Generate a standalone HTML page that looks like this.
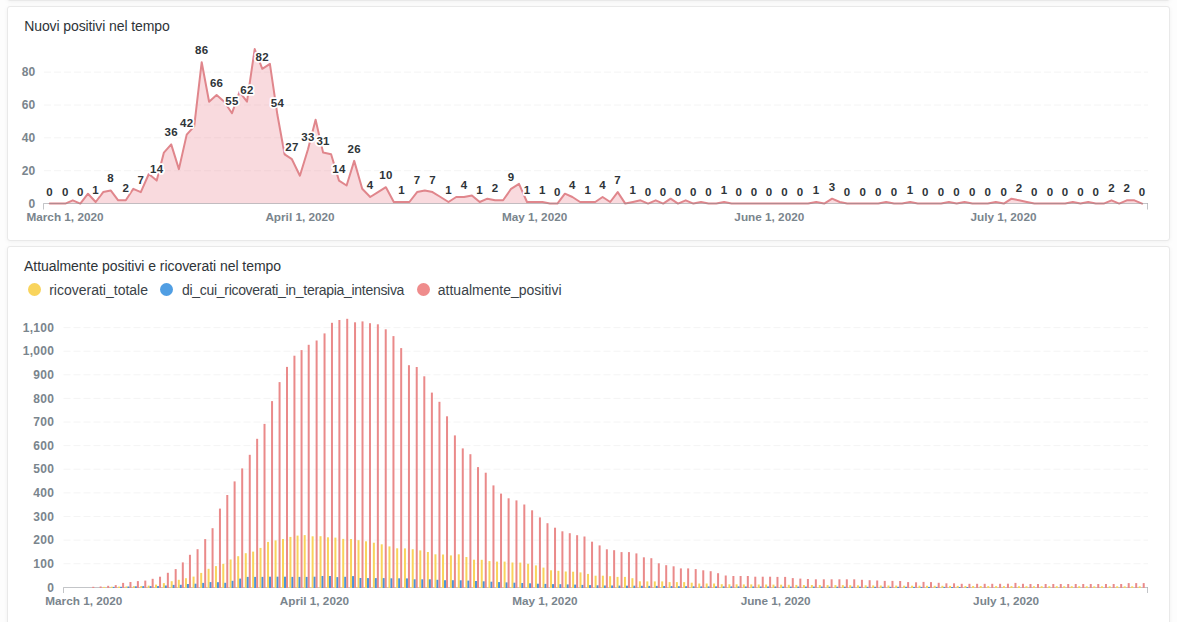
<!DOCTYPE html>
<html><head><meta charset="utf-8"><style>
html,body{margin:0;padding:0}
body{width:1177px;height:622px;overflow:hidden;position:relative;background:#FDFDFD;font-family:"Liberation Sans",sans-serif}
.card{position:absolute;left:7px;width:1163px;background:#fff;border:1px solid #E9E9E9;border-radius:3px;box-sizing:border-box;box-shadow:0 1px 4px rgba(0,0,0,0.05)}
.title{position:absolute;left:24.2px;font-size:14px;color:#2E3438;letter-spacing:-0.1px;white-space:nowrap;line-height:16px}
.leg{position:absolute;font-size:14px;color:#3A4248;white-space:nowrap;line-height:16px}
.dot{position:absolute;width:13px;height:13px;border-radius:50%}
svg{position:absolute;left:0;top:0}
.grid{stroke:#F4F4F4;stroke-width:1;stroke-dasharray:7,3}
.axis{stroke:rgba(135,140,145,0.5);stroke-width:1;fill:none}
.dl{font:bold 11.5px "Liberation Sans",sans-serif;letter-spacing:0.3px;fill:#2E3438;text-anchor:middle;stroke:#fff;stroke-width:3.5px;stroke-linejoin:round;paint-order:stroke}
.yl{font:bold 12px "Liberation Sans",sans-serif;letter-spacing:0.3px;fill:#7A858D;text-anchor:end}
.xl{font:bold 11.75px "Liberation Sans",sans-serif;fill:#7A858D;text-anchor:middle}
</style></head><body>
<div class="card" style="top:-30px;height:31px"></div>
<div class="card" style="top:6px;height:235px"></div>
<div class="card" style="top:246px;height:420px"></div>
<div class="title" style="top:18px">Nuovi positivi nel tempo</div>
<div class="title" style="top:258px;left:24px;letter-spacing:-0.05px">Attualmente positivi e ricoverati nel tempo</div>
<div class="dot" style="left:28px;top:283px;background:#F9D45C"></div>
<div class="leg" style="left:49.2px;top:282px">ricoverati_totale</div>
<div class="dot" style="left:160px;top:283px;background:#509EE3"></div>
<div class="leg" style="left:182px;top:282px;letter-spacing:-0.3px">di_cui_ricoverati_in_terapia_intensiva</div>
<div class="dot" style="left:417px;top:283px;background:#EF8C8C"></div>
<div class="leg" style="left:437.8px;top:282px">attualmente_positivi</div>
<svg width="1177" height="622" viewBox="0 0 1177 622">
<line x1="44" x2="1148" y1="170.7" y2="170.7" class="grid"/>
<line x1="44" x2="1148" y1="137.8" y2="137.8" class="grid"/>
<line x1="44" x2="1148" y1="105.0" y2="105.0" class="grid"/>
<line x1="44" x2="1148" y1="72.1" y2="72.1" class="grid"/>
<path d="M49.7,203.6 L49.7,203.6 57.5,203.6 65.3,203.6 72.8,200.3 80.3,203.6 88.0,193.7 95.7,202.0 103.2,192.1 110.7,190.4 118.2,200.3 125.8,200.3 133.3,188.8 140.8,192.1 148.8,174.0 156.7,180.6 163.9,152.6 171.2,144.4 178.9,169.1 186.7,134.6 194.2,126.3 201.7,62.2 209.1,101.7 216.6,95.1 224.3,101.7 232.0,113.2 239.5,91.8 247.0,101.7 254.7,49.1 262.3,68.8 269.9,63.9 277.4,114.8 284.6,154.3 291.9,159.2 299.9,175.7 308.0,149.3 315.6,119.8 323.1,152.6 331.1,154.3 339.0,180.6 346.6,185.5 354.2,160.9 362.2,188.8 370.2,197.0 378.0,192.1 385.9,187.2 393.8,202.0 401.7,202.0 409.4,202.0 417.1,192.1 424.8,190.4 432.5,192.1 440.5,197.0 448.5,202.0 456.2,197.0 464.0,197.0 471.9,195.4 479.7,202.0 487.4,198.7 495.1,200.3 503.1,200.3 511.1,188.8 519.0,183.9 527.0,202.0 534.7,202.0 542.4,202.0 549.9,203.6 557.4,203.6 564.9,193.7 572.4,197.0 580.1,202.0 587.8,202.0 595.2,202.0 602.6,197.0 610.2,202.0 617.7,192.1 625.3,203.6 632.9,202.0 640.5,200.3 648.1,203.6 655.7,200.3 663.2,203.6 670.6,198.7 678.0,203.6 685.7,200.3 693.4,203.6 701.0,202.0 708.5,203.6 716.3,203.6 724.1,202.0 731.5,203.6 738.8,203.6 746.4,203.6 754.0,203.6 761.5,203.6 769.0,203.6 776.8,203.6 784.6,203.6 792.3,203.6 800.0,203.6 808.1,203.6 816.2,202.0 824.2,203.6 832.1,198.7 839.7,202.0 847.2,203.6 855.0,203.6 862.9,203.6 870.6,203.6 878.3,203.6 886.1,202.0 894.0,203.6 902.1,203.6 910.2,202.0 917.8,203.6 925.4,203.6 933.2,203.6 941.1,203.6 948.9,202.0 956.7,203.6 964.5,202.0 972.4,203.6 980.1,203.6 987.8,203.6 995.8,202.0 1003.8,203.6 1011.5,198.7 1019.1,200.3 1026.8,202.0 1034.4,203.6 1042.2,203.6 1050.0,203.6 1057.6,203.6 1065.2,203.6 1072.8,202.0 1080.5,203.6 1088.2,202.0 1095.8,203.6 1103.7,203.6 1111.5,200.3 1119.2,203.6 1126.8,200.3 1134.4,200.3 1142.1,203.6 L1142.1,203.6 Z" fill="#ED8F9B" fill-opacity="0.33" stroke="none"/>
<polyline points="49.7,203.6 57.5,203.6 65.3,203.6 72.8,200.3 80.3,203.6 88.0,193.7 95.7,202.0 103.2,192.1 110.7,190.4 118.2,200.3 125.8,200.3 133.3,188.8 140.8,192.1 148.8,174.0 156.7,180.6 163.9,152.6 171.2,144.4 178.9,169.1 186.7,134.6 194.2,126.3 201.7,62.2 209.1,101.7 216.6,95.1 224.3,101.7 232.0,113.2 239.5,91.8 247.0,101.7 254.7,49.1 262.3,68.8 269.9,63.9 277.4,114.8 284.6,154.3 291.9,159.2 299.9,175.7 308.0,149.3 315.6,119.8 323.1,152.6 331.1,154.3 339.0,180.6 346.6,185.5 354.2,160.9 362.2,188.8 370.2,197.0 378.0,192.1 385.9,187.2 393.8,202.0 401.7,202.0 409.4,202.0 417.1,192.1 424.8,190.4 432.5,192.1 440.5,197.0 448.5,202.0 456.2,197.0 464.0,197.0 471.9,195.4 479.7,202.0 487.4,198.7 495.1,200.3 503.1,200.3 511.1,188.8 519.0,183.9 527.0,202.0 534.7,202.0 542.4,202.0 549.9,203.6 557.4,203.6 564.9,193.7 572.4,197.0 580.1,202.0 587.8,202.0 595.2,202.0 602.6,197.0 610.2,202.0 617.7,192.1 625.3,203.6 632.9,202.0 640.5,200.3 648.1,203.6 655.7,200.3 663.2,203.6 670.6,198.7 678.0,203.6 685.7,200.3 693.4,203.6 701.0,202.0 708.5,203.6 716.3,203.6 724.1,202.0 731.5,203.6 738.8,203.6 746.4,203.6 754.0,203.6 761.5,203.6 769.0,203.6 776.8,203.6 784.6,203.6 792.3,203.6 800.0,203.6 808.1,203.6 816.2,202.0 824.2,203.6 832.1,198.7 839.7,202.0 847.2,203.6 855.0,203.6 862.9,203.6 870.6,203.6 878.3,203.6 886.1,202.0 894.0,203.6 902.1,203.6 910.2,202.0 917.8,203.6 925.4,203.6 933.2,203.6 941.1,203.6 948.9,202.0 956.7,203.6 964.5,202.0 972.4,203.6 980.1,203.6 987.8,203.6 995.8,202.0 1003.8,203.6 1011.5,198.7 1019.1,200.3 1026.8,202.0 1034.4,203.6 1042.2,203.6 1050.0,203.6 1057.6,203.6 1065.2,203.6 1072.8,202.0 1080.5,203.6 1088.2,202.0 1095.8,203.6 1103.7,203.6 1111.5,200.3 1119.2,203.6 1126.8,200.3 1134.4,200.3 1142.1,203.6" fill="none" stroke="#E0868C" stroke-width="2" stroke-linejoin="round" stroke-linecap="round"/>
<path d="M43.5,203.5 H1148" class="axis"/>
<path d="M43.5,203.5 V209.5 M1147.5,203.5 V209.5" class="axis"/>
<text x="49.7" y="195.6" class="dl">0</text>
<text x="65.3" y="195.6" class="dl">0</text>
<text x="80.3" y="195.6" class="dl">0</text>
<text x="95.7" y="194.0" class="dl">1</text>
<text x="110.7" y="182.4" class="dl">8</text>
<text x="125.8" y="192.3" class="dl">2</text>
<text x="140.8" y="184.1" class="dl">7</text>
<text x="156.7" y="172.6" class="dl">14</text>
<text x="171.2" y="136.4" class="dl">36</text>
<text x="186.7" y="126.6" class="dl">42</text>
<text x="201.7" y="54.2" class="dl">86</text>
<text x="216.6" y="87.1" class="dl">66</text>
<text x="232.0" y="105.2" class="dl">55</text>
<text x="247.0" y="93.7" class="dl">62</text>
<text x="262.3" y="60.8" class="dl">82</text>
<text x="277.4" y="106.8" class="dl">54</text>
<text x="291.9" y="151.2" class="dl">27</text>
<text x="308.0" y="141.3" class="dl">33</text>
<text x="323.1" y="144.6" class="dl">31</text>
<text x="339.0" y="172.6" class="dl">14</text>
<text x="354.2" y="152.9" class="dl">26</text>
<text x="370.2" y="189.0" class="dl">4</text>
<text x="385.9" y="179.2" class="dl">10</text>
<text x="401.7" y="194.0" class="dl">1</text>
<text x="417.1" y="184.1" class="dl">7</text>
<text x="432.5" y="184.1" class="dl">7</text>
<text x="448.5" y="194.0" class="dl">1</text>
<text x="464.0" y="189.0" class="dl">4</text>
<text x="479.7" y="194.0" class="dl">1</text>
<text x="495.1" y="192.3" class="dl">2</text>
<text x="511.1" y="180.8" class="dl">9</text>
<text x="527.0" y="194.0" class="dl">1</text>
<text x="542.4" y="194.0" class="dl">1</text>
<text x="557.4" y="195.6" class="dl">0</text>
<text x="572.4" y="189.0" class="dl">4</text>
<text x="587.8" y="194.0" class="dl">1</text>
<text x="602.6" y="189.0" class="dl">4</text>
<text x="617.7" y="184.1" class="dl">7</text>
<text x="632.9" y="194.0" class="dl">1</text>
<text x="648.1" y="195.6" class="dl">0</text>
<text x="663.2" y="195.6" class="dl">0</text>
<text x="678.0" y="195.6" class="dl">0</text>
<text x="693.4" y="195.6" class="dl">0</text>
<text x="708.5" y="195.6" class="dl">0</text>
<text x="724.1" y="194.0" class="dl">1</text>
<text x="738.8" y="195.6" class="dl">0</text>
<text x="754.0" y="195.6" class="dl">0</text>
<text x="769.0" y="195.6" class="dl">0</text>
<text x="784.6" y="195.6" class="dl">0</text>
<text x="800.0" y="195.6" class="dl">0</text>
<text x="816.2" y="194.0" class="dl">1</text>
<text x="832.1" y="190.7" class="dl">3</text>
<text x="847.2" y="195.6" class="dl">0</text>
<text x="862.9" y="195.6" class="dl">0</text>
<text x="878.3" y="195.6" class="dl">0</text>
<text x="894.0" y="195.6" class="dl">0</text>
<text x="910.2" y="194.0" class="dl">1</text>
<text x="925.4" y="195.6" class="dl">0</text>
<text x="941.1" y="195.6" class="dl">0</text>
<text x="956.7" y="195.6" class="dl">0</text>
<text x="972.4" y="195.6" class="dl">0</text>
<text x="987.8" y="195.6" class="dl">0</text>
<text x="1003.8" y="195.6" class="dl">0</text>
<text x="1019.1" y="192.3" class="dl">2</text>
<text x="1034.4" y="195.6" class="dl">0</text>
<text x="1050.0" y="195.6" class="dl">0</text>
<text x="1065.2" y="195.6" class="dl">0</text>
<text x="1080.5" y="195.6" class="dl">0</text>
<text x="1095.8" y="195.6" class="dl">0</text>
<text x="1111.5" y="192.3" class="dl">2</text>
<text x="1126.8" y="192.3" class="dl">2</text>
<text x="1142.1" y="195.6" class="dl">0</text>
<text x="35.6" y="207.8" class="yl">0</text>
<text x="35.6" y="174.9" class="yl">20</text>
<text x="35.6" y="142.0" class="yl">40</text>
<text x="35.6" y="109.2" class="yl">60</text>
<text x="35.6" y="76.3" class="yl">80</text>
<text x="65" y="220.6" class="xl">March 1, 2020</text>
<text x="300" y="220.6" class="xl">April 1, 2020</text>
<text x="534.6" y="220.6" class="xl">May 1, 2020</text>
<text x="769.3" y="220.6" class="xl">June 1, 2020</text>
<text x="1003.5" y="220.6" class="xl">July 1, 2020</text>
<line x1="63.5" x2="1148" y1="563.7" y2="563.7" class="grid"/>
<line x1="63.5" x2="1148" y1="540.1" y2="540.1" class="grid"/>
<line x1="63.5" x2="1148" y1="516.5" y2="516.5" class="grid"/>
<line x1="63.5" x2="1148" y1="492.9" y2="492.9" class="grid"/>
<line x1="63.5" x2="1148" y1="469.2" y2="469.2" class="grid"/>
<line x1="63.5" x2="1148" y1="445.6" y2="445.6" class="grid"/>
<line x1="63.5" x2="1148" y1="422.0" y2="422.0" class="grid"/>
<line x1="63.5" x2="1148" y1="398.4" y2="398.4" class="grid"/>
<line x1="63.5" x2="1148" y1="374.8" y2="374.8" class="grid"/>
<line x1="63.5" x2="1148" y1="351.2" y2="351.2" class="grid"/>
<line x1="63.5" x2="1148" y1="327.6" y2="327.6" class="grid"/>
<path d="M63.5,587.5 H1148" class="axis"/>
<path d="M63.5,587.5 V593 M1147.5,587.5 V593" class="axis"/>
<rect x="92.27" y="586.8" width="2" height="1.2" fill="#EA8A8A"/>
<rect x="99.63" y="586.5" width="2" height="1.5" fill="#EA8A8A"/>
<rect x="103.19" y="586.9" width="2" height="1.1" fill="#F9D45C"/>
<rect x="107.19" y="585.8" width="2" height="2.2" fill="#EA8A8A"/>
<rect x="110.74" y="586.7" width="2" height="1.3" fill="#F9D45C"/>
<rect x="112.74" y="586.9" width="2" height="1.1" fill="#4A94D8"/>
<rect x="114.74" y="585.1" width="2" height="2.9" fill="#EA8A8A"/>
<rect x="118.11" y="586.6" width="2" height="1.4" fill="#F9D45C"/>
<rect x="120.11" y="586.8" width="2" height="1.2" fill="#4A94D8"/>
<rect x="122.11" y="582.9" width="2" height="5.1" fill="#EA8A8A"/>
<rect x="125.47" y="586.4" width="2" height="1.6" fill="#F9D45C"/>
<rect x="127.47" y="586.5" width="2" height="1.5" fill="#4A94D8"/>
<rect x="129.47" y="582.0" width="2" height="6.0" fill="#EA8A8A"/>
<rect x="132.88" y="586.2" width="2" height="1.8" fill="#F9D45C"/>
<rect x="134.88" y="586.3" width="2" height="1.7" fill="#4A94D8"/>
<rect x="136.88" y="581.1" width="2" height="6.9" fill="#EA8A8A"/>
<rect x="140.29" y="586.0" width="2" height="2.0" fill="#F9D45C"/>
<rect x="142.29" y="586.1" width="2" height="1.9" fill="#4A94D8"/>
<rect x="144.29" y="580.6" width="2" height="7.4" fill="#EA8A8A"/>
<rect x="147.66" y="585.6" width="2" height="2.4" fill="#F9D45C"/>
<rect x="149.66" y="586.1" width="2" height="1.9" fill="#4A94D8"/>
<rect x="151.66" y="578.8" width="2" height="9.2" fill="#EA8A8A"/>
<rect x="155.04" y="584.6" width="2" height="3.4" fill="#F9D45C"/>
<rect x="157.04" y="586.1" width="2" height="1.9" fill="#4A94D8"/>
<rect x="159.04" y="576.7" width="2" height="11.3" fill="#EA8A8A"/>
<rect x="162.86" y="583.1" width="2" height="4.9" fill="#F9D45C"/>
<rect x="164.86" y="585.5" width="2" height="2.5" fill="#4A94D8"/>
<rect x="166.86" y="572.8" width="2" height="15.2" fill="#EA8A8A"/>
<rect x="170.68" y="581.2" width="2" height="6.8" fill="#F9D45C"/>
<rect x="172.68" y="584.9" width="2" height="3.1" fill="#4A94D8"/>
<rect x="174.68" y="569.1" width="2" height="18.9" fill="#EA8A8A"/>
<rect x="177.81" y="579.8" width="2" height="8.2" fill="#F9D45C"/>
<rect x="179.81" y="584.8" width="2" height="3.2" fill="#4A94D8"/>
<rect x="181.81" y="562.4" width="2" height="25.6" fill="#EA8A8A"/>
<rect x="184.94" y="578.2" width="2" height="9.8" fill="#F9D45C"/>
<rect x="186.94" y="584.0" width="2" height="4.0" fill="#4A94D8"/>
<rect x="188.94" y="554.8" width="2" height="33.2" fill="#EA8A8A"/>
<rect x="192.57" y="576.6" width="2" height="11.4" fill="#F9D45C"/>
<rect x="194.57" y="583.7" width="2" height="4.3" fill="#4A94D8"/>
<rect x="196.57" y="549.2" width="2" height="38.8" fill="#EA8A8A"/>
<rect x="200.19" y="572.9" width="2" height="15.1" fill="#F9D45C"/>
<rect x="202.19" y="582.9" width="2" height="5.1" fill="#4A94D8"/>
<rect x="204.19" y="539.1" width="2" height="48.9" fill="#EA8A8A"/>
<rect x="207.57" y="568.8" width="2" height="19.2" fill="#F9D45C"/>
<rect x="209.57" y="582.1" width="2" height="5.9" fill="#4A94D8"/>
<rect x="211.57" y="528.2" width="2" height="59.8" fill="#EA8A8A"/>
<rect x="214.95" y="566.1" width="2" height="21.9" fill="#F9D45C"/>
<rect x="216.95" y="582.2" width="2" height="5.8" fill="#4A94D8"/>
<rect x="218.95" y="508.6" width="2" height="79.4" fill="#EA8A8A"/>
<rect x="222.28" y="563.8" width="2" height="24.2" fill="#F9D45C"/>
<rect x="224.28" y="582.8" width="2" height="5.2" fill="#4A94D8"/>
<rect x="226.28" y="495.0" width="2" height="93.0" fill="#EA8A8A"/>
<rect x="229.61" y="559.5" width="2" height="28.5" fill="#F9D45C"/>
<rect x="231.61" y="580.8" width="2" height="7.2" fill="#4A94D8"/>
<rect x="233.61" y="481.4" width="2" height="106.6" fill="#EA8A8A"/>
<rect x="237.19" y="556.2" width="2" height="31.8" fill="#F9D45C"/>
<rect x="239.19" y="578.6" width="2" height="9.4" fill="#4A94D8"/>
<rect x="241.19" y="468.4" width="2" height="119.6" fill="#EA8A8A"/>
<rect x="244.76" y="553.2" width="2" height="34.8" fill="#F9D45C"/>
<rect x="246.76" y="576.9" width="2" height="11.1" fill="#4A94D8"/>
<rect x="248.76" y="454.8" width="2" height="133.2" fill="#EA8A8A"/>
<rect x="252.14" y="551.6" width="2" height="36.4" fill="#F9D45C"/>
<rect x="254.14" y="576.9" width="2" height="11.1" fill="#4A94D8"/>
<rect x="256.14" y="438.8" width="2" height="149.2" fill="#EA8A8A"/>
<rect x="259.52" y="547.9" width="2" height="40.1" fill="#F9D45C"/>
<rect x="261.52" y="576.9" width="2" height="11.1" fill="#4A94D8"/>
<rect x="263.52" y="423.9" width="2" height="164.1" fill="#EA8A8A"/>
<rect x="267.05" y="541.9" width="2" height="46.1" fill="#F9D45C"/>
<rect x="269.05" y="576.7" width="2" height="11.3" fill="#4A94D8"/>
<rect x="271.05" y="401.1" width="2" height="186.9" fill="#EA8A8A"/>
<rect x="274.57" y="540.4" width="2" height="47.6" fill="#F9D45C"/>
<rect x="276.57" y="576.7" width="2" height="11.3" fill="#4A94D8"/>
<rect x="278.57" y="382.1" width="2" height="205.9" fill="#EA8A8A"/>
<rect x="282.00" y="539.0" width="2" height="49.0" fill="#F9D45C"/>
<rect x="284.00" y="576.7" width="2" height="11.3" fill="#4A94D8"/>
<rect x="286.00" y="366.9" width="2" height="221.1" fill="#EA8A8A"/>
<rect x="289.43" y="536.9" width="2" height="51.1" fill="#F9D45C"/>
<rect x="291.43" y="576.9" width="2" height="11.1" fill="#4A94D8"/>
<rect x="293.43" y="355.7" width="2" height="232.3" fill="#EA8A8A"/>
<rect x="296.56" y="535.6" width="2" height="52.4" fill="#F9D45C"/>
<rect x="298.56" y="576.9" width="2" height="11.1" fill="#4A94D8"/>
<rect x="300.56" y="350.1" width="2" height="237.9" fill="#EA8A8A"/>
<rect x="303.70" y="535.1" width="2" height="52.9" fill="#F9D45C"/>
<rect x="305.70" y="576.9" width="2" height="11.1" fill="#4A94D8"/>
<rect x="307.70" y="344.8" width="2" height="243.2" fill="#EA8A8A"/>
<rect x="311.62" y="536.3" width="2" height="51.7" fill="#F9D45C"/>
<rect x="313.62" y="576.7" width="2" height="11.3" fill="#4A94D8"/>
<rect x="315.62" y="340.5" width="2" height="247.5" fill="#EA8A8A"/>
<rect x="319.54" y="536.2" width="2" height="51.8" fill="#F9D45C"/>
<rect x="321.54" y="576.0" width="2" height="12.0" fill="#4A94D8"/>
<rect x="323.54" y="333.4" width="2" height="254.6" fill="#EA8A8A"/>
<rect x="326.97" y="537.3" width="2" height="50.7" fill="#F9D45C"/>
<rect x="328.97" y="576.0" width="2" height="12.0" fill="#4A94D8"/>
<rect x="330.97" y="322.8" width="2" height="265.2" fill="#EA8A8A"/>
<rect x="334.39" y="537.6" width="2" height="50.4" fill="#F9D45C"/>
<rect x="336.39" y="577.1" width="2" height="10.9" fill="#4A94D8"/>
<rect x="338.39" y="320.0" width="2" height="268.0" fill="#EA8A8A"/>
<rect x="342.22" y="538.9" width="2" height="49.1" fill="#F9D45C"/>
<rect x="344.22" y="576.8" width="2" height="11.2" fill="#4A94D8"/>
<rect x="346.22" y="318.8" width="2" height="269.2" fill="#EA8A8A"/>
<rect x="350.04" y="539.0" width="2" height="49.0" fill="#F9D45C"/>
<rect x="352.04" y="576.1" width="2" height="11.9" fill="#4A94D8"/>
<rect x="354.04" y="322.3" width="2" height="265.7" fill="#EA8A8A"/>
<rect x="357.51" y="540.2" width="2" height="47.8" fill="#F9D45C"/>
<rect x="359.51" y="578.0" width="2" height="10.0" fill="#4A94D8"/>
<rect x="361.51" y="321.4" width="2" height="266.6" fill="#EA8A8A"/>
<rect x="364.99" y="541.3" width="2" height="46.7" fill="#F9D45C"/>
<rect x="366.99" y="578.1" width="2" height="9.9" fill="#4A94D8"/>
<rect x="368.99" y="323.2" width="2" height="264.8" fill="#EA8A8A"/>
<rect x="372.86" y="542.7" width="2" height="45.3" fill="#F9D45C"/>
<rect x="374.86" y="578.1" width="2" height="9.9" fill="#4A94D8"/>
<rect x="376.86" y="324.3" width="2" height="263.7" fill="#EA8A8A"/>
<rect x="380.73" y="544.3" width="2" height="43.7" fill="#F9D45C"/>
<rect x="382.73" y="578.1" width="2" height="9.9" fill="#4A94D8"/>
<rect x="384.73" y="329.3" width="2" height="258.7" fill="#EA8A8A"/>
<rect x="388.46" y="546.4" width="2" height="41.6" fill="#F9D45C"/>
<rect x="390.46" y="578.3" width="2" height="9.7" fill="#4A94D8"/>
<rect x="392.46" y="336.1" width="2" height="251.9" fill="#EA8A8A"/>
<rect x="396.18" y="548.3" width="2" height="39.7" fill="#F9D45C"/>
<rect x="398.18" y="578.3" width="2" height="9.7" fill="#4A94D8"/>
<rect x="400.18" y="348.1" width="2" height="239.9" fill="#EA8A8A"/>
<rect x="403.95" y="548.4" width="2" height="39.6" fill="#F9D45C"/>
<rect x="405.95" y="578.4" width="2" height="9.6" fill="#4A94D8"/>
<rect x="407.95" y="365.2" width="2" height="222.8" fill="#EA8A8A"/>
<rect x="411.73" y="549.2" width="2" height="38.8" fill="#F9D45C"/>
<rect x="413.73" y="579.3" width="2" height="8.7" fill="#4A94D8"/>
<rect x="415.73" y="367.0" width="2" height="221.0" fill="#EA8A8A"/>
<rect x="419.30" y="550.4" width="2" height="37.6" fill="#F9D45C"/>
<rect x="421.30" y="579.3" width="2" height="8.7" fill="#4A94D8"/>
<rect x="423.30" y="376.3" width="2" height="211.7" fill="#EA8A8A"/>
<rect x="426.88" y="552.0" width="2" height="36.0" fill="#F9D45C"/>
<rect x="428.88" y="579.3" width="2" height="8.7" fill="#4A94D8"/>
<rect x="430.88" y="392.6" width="2" height="195.4" fill="#EA8A8A"/>
<rect x="434.45" y="554.3" width="2" height="33.7" fill="#F9D45C"/>
<rect x="436.45" y="579.8" width="2" height="8.2" fill="#4A94D8"/>
<rect x="438.45" y="401.8" width="2" height="186.2" fill="#EA8A8A"/>
<rect x="442.03" y="554.5" width="2" height="33.5" fill="#F9D45C"/>
<rect x="444.03" y="580.2" width="2" height="7.8" fill="#4A94D8"/>
<rect x="446.03" y="416.3" width="2" height="171.7" fill="#EA8A8A"/>
<rect x="449.90" y="555.4" width="2" height="32.6" fill="#F9D45C"/>
<rect x="451.90" y="580.2" width="2" height="7.8" fill="#4A94D8"/>
<rect x="453.90" y="435.4" width="2" height="152.6" fill="#EA8A8A"/>
<rect x="457.77" y="554.3" width="2" height="33.7" fill="#F9D45C"/>
<rect x="459.77" y="580.3" width="2" height="7.7" fill="#4A94D8"/>
<rect x="461.77" y="448.4" width="2" height="139.6" fill="#EA8A8A"/>
<rect x="465.40" y="557.0" width="2" height="31.0" fill="#F9D45C"/>
<rect x="467.40" y="580.6" width="2" height="7.4" fill="#4A94D8"/>
<rect x="469.40" y="454.2" width="2" height="133.8" fill="#EA8A8A"/>
<rect x="473.02" y="559.7" width="2" height="28.3" fill="#F9D45C"/>
<rect x="475.02" y="581.0" width="2" height="7.0" fill="#4A94D8"/>
<rect x="477.02" y="467.1" width="2" height="120.9" fill="#EA8A8A"/>
<rect x="480.74" y="559.8" width="2" height="28.2" fill="#F9D45C"/>
<rect x="482.74" y="581.3" width="2" height="6.7" fill="#4A94D8"/>
<rect x="484.74" y="472.7" width="2" height="115.3" fill="#EA8A8A"/>
<rect x="488.47" y="561.1" width="2" height="26.9" fill="#F9D45C"/>
<rect x="490.47" y="581.7" width="2" height="6.3" fill="#4A94D8"/>
<rect x="492.47" y="485.4" width="2" height="102.6" fill="#EA8A8A"/>
<rect x="496.04" y="561.6" width="2" height="26.4" fill="#F9D45C"/>
<rect x="498.04" y="582.1" width="2" height="5.9" fill="#4A94D8"/>
<rect x="500.04" y="493.6" width="2" height="94.4" fill="#EA8A8A"/>
<rect x="503.60" y="561.6" width="2" height="26.4" fill="#F9D45C"/>
<rect x="505.60" y="582.4" width="2" height="5.6" fill="#4A94D8"/>
<rect x="507.60" y="498.3" width="2" height="89.7" fill="#EA8A8A"/>
<rect x="511.46" y="562.5" width="2" height="25.5" fill="#F9D45C"/>
<rect x="513.46" y="582.7" width="2" height="5.3" fill="#4A94D8"/>
<rect x="515.46" y="500.4" width="2" height="87.6" fill="#EA8A8A"/>
<rect x="519.31" y="562.6" width="2" height="25.4" fill="#F9D45C"/>
<rect x="521.31" y="583.0" width="2" height="5.0" fill="#4A94D8"/>
<rect x="523.31" y="504.5" width="2" height="83.5" fill="#EA8A8A"/>
<rect x="527.11" y="563.8" width="2" height="24.2" fill="#F9D45C"/>
<rect x="529.11" y="583.3" width="2" height="4.7" fill="#4A94D8"/>
<rect x="531.11" y="510.3" width="2" height="77.7" fill="#EA8A8A"/>
<rect x="534.92" y="565.4" width="2" height="22.6" fill="#F9D45C"/>
<rect x="536.92" y="583.7" width="2" height="4.3" fill="#4A94D8"/>
<rect x="538.92" y="517.4" width="2" height="70.6" fill="#EA8A8A"/>
<rect x="542.48" y="567.6" width="2" height="20.4" fill="#F9D45C"/>
<rect x="544.48" y="583.9" width="2" height="4.1" fill="#4A94D8"/>
<rect x="546.48" y="523.2" width="2" height="64.8" fill="#EA8A8A"/>
<rect x="550.03" y="570.3" width="2" height="17.7" fill="#F9D45C"/>
<rect x="552.03" y="584.1" width="2" height="3.9" fill="#4A94D8"/>
<rect x="554.03" y="527.7" width="2" height="60.3" fill="#EA8A8A"/>
<rect x="557.40" y="570.8" width="2" height="17.2" fill="#F9D45C"/>
<rect x="559.40" y="584.2" width="2" height="3.8" fill="#4A94D8"/>
<rect x="561.40" y="531.3" width="2" height="56.7" fill="#EA8A8A"/>
<rect x="564.76" y="571.5" width="2" height="16.5" fill="#F9D45C"/>
<rect x="566.76" y="584.4" width="2" height="3.6" fill="#4A94D8"/>
<rect x="568.76" y="533.2" width="2" height="54.8" fill="#EA8A8A"/>
<rect x="572.12" y="571.7" width="2" height="16.3" fill="#F9D45C"/>
<rect x="574.12" y="584.6" width="2" height="3.4" fill="#4A94D8"/>
<rect x="576.12" y="535.2" width="2" height="52.8" fill="#EA8A8A"/>
<rect x="579.48" y="572.4" width="2" height="15.6" fill="#F9D45C"/>
<rect x="581.48" y="584.9" width="2" height="3.1" fill="#4A94D8"/>
<rect x="583.48" y="536.5" width="2" height="51.5" fill="#EA8A8A"/>
<rect x="587.04" y="573.9" width="2" height="14.1" fill="#F9D45C"/>
<rect x="589.04" y="585.1" width="2" height="2.9" fill="#4A94D8"/>
<rect x="591.04" y="541.7" width="2" height="46.3" fill="#EA8A8A"/>
<rect x="594.60" y="575.7" width="2" height="12.3" fill="#F9D45C"/>
<rect x="596.60" y="585.3" width="2" height="2.7" fill="#4A94D8"/>
<rect x="598.60" y="545.4" width="2" height="42.6" fill="#EA8A8A"/>
<rect x="601.86" y="575.7" width="2" height="12.3" fill="#F9D45C"/>
<rect x="603.86" y="585.5" width="2" height="2.5" fill="#4A94D8"/>
<rect x="605.86" y="549.3" width="2" height="38.7" fill="#EA8A8A"/>
<rect x="609.13" y="576.2" width="2" height="11.8" fill="#F9D45C"/>
<rect x="611.13" y="585.5" width="2" height="2.5" fill="#4A94D8"/>
<rect x="613.13" y="550.2" width="2" height="37.8" fill="#EA8A8A"/>
<rect x="616.54" y="576.9" width="2" height="11.1" fill="#F9D45C"/>
<rect x="618.54" y="585.6" width="2" height="2.4" fill="#4A94D8"/>
<rect x="620.54" y="552.1" width="2" height="35.9" fill="#EA8A8A"/>
<rect x="623.95" y="576.9" width="2" height="11.1" fill="#F9D45C"/>
<rect x="625.95" y="585.7" width="2" height="2.3" fill="#4A94D8"/>
<rect x="627.95" y="552.1" width="2" height="35.9" fill="#EA8A8A"/>
<rect x="631.41" y="578.2" width="2" height="9.8" fill="#F9D45C"/>
<rect x="633.41" y="585.7" width="2" height="2.3" fill="#4A94D8"/>
<rect x="635.41" y="553.4" width="2" height="34.6" fill="#EA8A8A"/>
<rect x="638.87" y="581.3" width="2" height="6.7" fill="#F9D45C"/>
<rect x="640.87" y="585.8" width="2" height="2.2" fill="#4A94D8"/>
<rect x="642.87" y="557.3" width="2" height="30.7" fill="#EA8A8A"/>
<rect x="646.33" y="581.4" width="2" height="6.6" fill="#F9D45C"/>
<rect x="648.33" y="585.9" width="2" height="2.1" fill="#4A94D8"/>
<rect x="650.33" y="558.2" width="2" height="29.8" fill="#EA8A8A"/>
<rect x="653.79" y="581.4" width="2" height="6.6" fill="#F9D45C"/>
<rect x="655.79" y="585.9" width="2" height="2.1" fill="#4A94D8"/>
<rect x="657.79" y="563.3" width="2" height="24.7" fill="#EA8A8A"/>
<rect x="661.20" y="581.4" width="2" height="6.6" fill="#F9D45C"/>
<rect x="663.20" y="586.0" width="2" height="2.0" fill="#4A94D8"/>
<rect x="665.20" y="565.2" width="2" height="22.8" fill="#EA8A8A"/>
<rect x="668.61" y="582.1" width="2" height="5.9" fill="#F9D45C"/>
<rect x="670.61" y="586.1" width="2" height="1.9" fill="#4A94D8"/>
<rect x="672.61" y="566.3" width="2" height="21.7" fill="#EA8A8A"/>
<rect x="675.88" y="582.1" width="2" height="5.9" fill="#F9D45C"/>
<rect x="677.88" y="586.2" width="2" height="1.8" fill="#4A94D8"/>
<rect x="679.88" y="568.4" width="2" height="19.6" fill="#EA8A8A"/>
<rect x="683.14" y="582.1" width="2" height="5.9" fill="#F9D45C"/>
<rect x="685.14" y="586.2" width="2" height="1.8" fill="#4A94D8"/>
<rect x="687.14" y="568.4" width="2" height="19.6" fill="#EA8A8A"/>
<rect x="690.70" y="582.7" width="2" height="5.3" fill="#F9D45C"/>
<rect x="692.70" y="586.3" width="2" height="1.7" fill="#4A94D8"/>
<rect x="694.70" y="569.1" width="2" height="18.9" fill="#EA8A8A"/>
<rect x="698.26" y="583.5" width="2" height="4.5" fill="#F9D45C"/>
<rect x="700.26" y="586.4" width="2" height="1.6" fill="#4A94D8"/>
<rect x="702.26" y="570.3" width="2" height="17.7" fill="#EA8A8A"/>
<rect x="705.67" y="583.5" width="2" height="4.5" fill="#F9D45C"/>
<rect x="707.67" y="586.4" width="2" height="1.6" fill="#4A94D8"/>
<rect x="709.67" y="571.2" width="2" height="16.8" fill="#EA8A8A"/>
<rect x="713.08" y="583.5" width="2" height="4.5" fill="#F9D45C"/>
<rect x="715.08" y="586.4" width="2" height="1.6" fill="#4A94D8"/>
<rect x="717.08" y="573.2" width="2" height="14.8" fill="#EA8A8A"/>
<rect x="720.74" y="584.2" width="2" height="3.8" fill="#F9D45C"/>
<rect x="722.74" y="586.4" width="2" height="1.6" fill="#4A94D8"/>
<rect x="724.74" y="575.5" width="2" height="12.5" fill="#EA8A8A"/>
<rect x="728.39" y="584.3" width="2" height="3.7" fill="#F9D45C"/>
<rect x="730.39" y="586.4" width="2" height="1.6" fill="#4A94D8"/>
<rect x="732.39" y="576.0" width="2" height="12.0" fill="#EA8A8A"/>
<rect x="735.61" y="584.3" width="2" height="3.7" fill="#F9D45C"/>
<rect x="737.61" y="586.4" width="2" height="1.6" fill="#4A94D8"/>
<rect x="739.61" y="576.0" width="2" height="12.0" fill="#EA8A8A"/>
<rect x="742.82" y="584.4" width="2" height="3.6" fill="#F9D45C"/>
<rect x="744.82" y="586.5" width="2" height="1.5" fill="#4A94D8"/>
<rect x="746.82" y="576.0" width="2" height="12.0" fill="#EA8A8A"/>
<rect x="750.28" y="584.4" width="2" height="3.6" fill="#F9D45C"/>
<rect x="752.28" y="586.5" width="2" height="1.5" fill="#4A94D8"/>
<rect x="754.28" y="576.7" width="2" height="11.3" fill="#EA8A8A"/>
<rect x="757.74" y="584.5" width="2" height="3.5" fill="#F9D45C"/>
<rect x="759.74" y="586.5" width="2" height="1.5" fill="#4A94D8"/>
<rect x="761.74" y="576.7" width="2" height="11.3" fill="#EA8A8A"/>
<rect x="765.11" y="584.5" width="2" height="3.5" fill="#F9D45C"/>
<rect x="767.11" y="586.5" width="2" height="1.5" fill="#4A94D8"/>
<rect x="769.11" y="576.7" width="2" height="11.3" fill="#EA8A8A"/>
<rect x="772.47" y="584.6" width="2" height="3.4" fill="#F9D45C"/>
<rect x="774.47" y="586.5" width="2" height="1.5" fill="#4A94D8"/>
<rect x="776.47" y="576.9" width="2" height="11.1" fill="#EA8A8A"/>
<rect x="780.13" y="584.7" width="2" height="3.3" fill="#F9D45C"/>
<rect x="782.13" y="586.6" width="2" height="1.4" fill="#4A94D8"/>
<rect x="784.13" y="576.9" width="2" height="11.1" fill="#EA8A8A"/>
<rect x="787.78" y="584.8" width="2" height="3.2" fill="#F9D45C"/>
<rect x="789.78" y="586.6" width="2" height="1.4" fill="#4A94D8"/>
<rect x="791.78" y="578.1" width="2" height="9.9" fill="#EA8A8A"/>
<rect x="795.34" y="584.9" width="2" height="3.1" fill="#F9D45C"/>
<rect x="797.34" y="586.6" width="2" height="1.4" fill="#4A94D8"/>
<rect x="799.34" y="578.6" width="2" height="9.4" fill="#EA8A8A"/>
<rect x="802.90" y="585.0" width="2" height="3.0" fill="#F9D45C"/>
<rect x="804.90" y="586.6" width="2" height="1.4" fill="#4A94D8"/>
<rect x="806.90" y="579.0" width="2" height="9.0" fill="#EA8A8A"/>
<rect x="810.85" y="585.0" width="2" height="3.0" fill="#F9D45C"/>
<rect x="812.85" y="586.6" width="2" height="1.4" fill="#4A94D8"/>
<rect x="814.85" y="579.3" width="2" height="8.7" fill="#EA8A8A"/>
<rect x="818.80" y="585.0" width="2" height="3.0" fill="#F9D45C"/>
<rect x="820.80" y="586.6" width="2" height="1.4" fill="#4A94D8"/>
<rect x="822.80" y="579.3" width="2" height="8.7" fill="#EA8A8A"/>
<rect x="826.61" y="585.1" width="2" height="2.9" fill="#F9D45C"/>
<rect x="828.61" y="586.7" width="2" height="1.3" fill="#4A94D8"/>
<rect x="830.61" y="579.3" width="2" height="8.7" fill="#EA8A8A"/>
<rect x="834.41" y="585.1" width="2" height="2.9" fill="#F9D45C"/>
<rect x="836.41" y="586.7" width="2" height="1.3" fill="#4A94D8"/>
<rect x="838.41" y="579.3" width="2" height="8.7" fill="#EA8A8A"/>
<rect x="841.82" y="585.1" width="2" height="2.9" fill="#F9D45C"/>
<rect x="843.82" y="586.7" width="2" height="1.3" fill="#4A94D8"/>
<rect x="845.82" y="579.3" width="2" height="8.7" fill="#EA8A8A"/>
<rect x="849.23" y="585.2" width="2" height="2.8" fill="#F9D45C"/>
<rect x="851.23" y="586.7" width="2" height="1.3" fill="#4A94D8"/>
<rect x="853.23" y="579.3" width="2" height="8.7" fill="#EA8A8A"/>
<rect x="856.94" y="585.3" width="2" height="2.7" fill="#F9D45C"/>
<rect x="858.94" y="586.7" width="2" height="1.3" fill="#4A94D8"/>
<rect x="860.94" y="579.8" width="2" height="8.2" fill="#EA8A8A"/>
<rect x="864.64" y="585.3" width="2" height="2.7" fill="#F9D45C"/>
<rect x="866.64" y="586.8" width="2" height="1.2" fill="#4A94D8"/>
<rect x="868.64" y="580.2" width="2" height="7.8" fill="#EA8A8A"/>
<rect x="872.20" y="585.4" width="2" height="2.6" fill="#F9D45C"/>
<rect x="874.20" y="586.8" width="2" height="1.2" fill="#4A94D8"/>
<rect x="876.20" y="580.5" width="2" height="7.5" fill="#EA8A8A"/>
<rect x="879.76" y="585.5" width="2" height="2.5" fill="#F9D45C"/>
<rect x="881.76" y="586.8" width="2" height="1.2" fill="#4A94D8"/>
<rect x="883.76" y="580.9" width="2" height="7.1" fill="#EA8A8A"/>
<rect x="887.47" y="585.5" width="2" height="2.5" fill="#F9D45C"/>
<rect x="889.47" y="586.8" width="2" height="1.2" fill="#4A94D8"/>
<rect x="891.47" y="580.9" width="2" height="7.1" fill="#EA8A8A"/>
<rect x="895.17" y="585.6" width="2" height="2.4" fill="#F9D45C"/>
<rect x="897.17" y="586.8" width="2" height="1.2" fill="#4A94D8"/>
<rect x="899.17" y="581.0" width="2" height="7.0" fill="#EA8A8A"/>
<rect x="903.12" y="585.7" width="2" height="2.3" fill="#F9D45C"/>
<rect x="905.12" y="586.8" width="2" height="1.2" fill="#4A94D8"/>
<rect x="907.12" y="582.1" width="2" height="5.9" fill="#EA8A8A"/>
<rect x="911.07" y="585.7" width="2" height="2.3" fill="#F9D45C"/>
<rect x="913.07" y="586.9" width="2" height="1.1" fill="#4A94D8"/>
<rect x="915.07" y="582.3" width="2" height="5.7" fill="#EA8A8A"/>
<rect x="918.53" y="585.7" width="2" height="2.3" fill="#F9D45C"/>
<rect x="920.53" y="586.9" width="2" height="1.1" fill="#4A94D8"/>
<rect x="922.53" y="581.9" width="2" height="6.1" fill="#EA8A8A"/>
<rect x="925.99" y="585.8" width="2" height="2.2" fill="#F9D45C"/>
<rect x="927.99" y="586.9" width="2" height="1.1" fill="#4A94D8"/>
<rect x="929.99" y="582.1" width="2" height="5.9" fill="#EA8A8A"/>
<rect x="933.70" y="585.8" width="2" height="2.2" fill="#F9D45C"/>
<rect x="935.70" y="586.9" width="2" height="1.1" fill="#4A94D8"/>
<rect x="937.70" y="582.8" width="2" height="5.2" fill="#EA8A8A"/>
<rect x="941.41" y="585.8" width="2" height="2.2" fill="#F9D45C"/>
<rect x="943.41" y="586.9" width="2" height="1.1" fill="#4A94D8"/>
<rect x="945.41" y="583.3" width="2" height="4.7" fill="#EA8A8A"/>
<rect x="949.06" y="585.9" width="2" height="2.1" fill="#F9D45C"/>
<rect x="951.06" y="587.0" width="2" height="1.0" fill="#4A94D8"/>
<rect x="953.06" y="583.3" width="2" height="4.7" fill="#EA8A8A"/>
<rect x="956.72" y="585.9" width="2" height="2.1" fill="#F9D45C"/>
<rect x="958.72" y="587.0" width="2" height="1.0" fill="#4A94D8"/>
<rect x="960.72" y="583.8" width="2" height="4.2" fill="#EA8A8A"/>
<rect x="964.42" y="586.0" width="2" height="2.0" fill="#F9D45C"/>
<rect x="966.42" y="587.0" width="2" height="1.0" fill="#4A94D8"/>
<rect x="968.42" y="583.8" width="2" height="4.2" fill="#EA8A8A"/>
<rect x="972.13" y="586.0" width="2" height="2.0" fill="#F9D45C"/>
<rect x="976.13" y="583.8" width="2" height="4.2" fill="#EA8A8A"/>
<rect x="979.69" y="586.0" width="2" height="2.0" fill="#F9D45C"/>
<rect x="983.69" y="583.8" width="2" height="4.2" fill="#EA8A8A"/>
<rect x="987.25" y="586.1" width="2" height="1.9" fill="#F9D45C"/>
<rect x="991.25" y="583.8" width="2" height="4.2" fill="#EA8A8A"/>
<rect x="995.10" y="586.1" width="2" height="1.9" fill="#F9D45C"/>
<rect x="999.10" y="583.8" width="2" height="4.2" fill="#EA8A8A"/>
<rect x="1002.95" y="586.1" width="2" height="1.9" fill="#F9D45C"/>
<rect x="1006.95" y="583.7" width="2" height="4.3" fill="#EA8A8A"/>
<rect x="1010.46" y="586.1" width="2" height="1.9" fill="#F9D45C"/>
<rect x="1014.46" y="582.9" width="2" height="5.1" fill="#EA8A8A"/>
<rect x="1017.97" y="586.2" width="2" height="1.8" fill="#F9D45C"/>
<rect x="1021.97" y="583.8" width="2" height="4.2" fill="#EA8A8A"/>
<rect x="1025.48" y="586.2" width="2" height="1.8" fill="#F9D45C"/>
<rect x="1029.48" y="584.0" width="2" height="4.0" fill="#EA8A8A"/>
<rect x="1032.99" y="586.2" width="2" height="1.8" fill="#F9D45C"/>
<rect x="1036.99" y="584.0" width="2" height="4.0" fill="#EA8A8A"/>
<rect x="1040.65" y="586.2" width="2" height="1.8" fill="#F9D45C"/>
<rect x="1044.65" y="584.0" width="2" height="4.0" fill="#EA8A8A"/>
<rect x="1048.30" y="586.2" width="2" height="1.8" fill="#F9D45C"/>
<rect x="1052.30" y="584.0" width="2" height="4.0" fill="#EA8A8A"/>
<rect x="1055.76" y="586.2" width="2" height="1.8" fill="#F9D45C"/>
<rect x="1059.76" y="584.0" width="2" height="4.0" fill="#EA8A8A"/>
<rect x="1063.22" y="586.2" width="2" height="1.8" fill="#F9D45C"/>
<rect x="1067.22" y="584.0" width="2" height="4.0" fill="#EA8A8A"/>
<rect x="1070.73" y="586.2" width="2" height="1.8" fill="#F9D45C"/>
<rect x="1074.73" y="584.0" width="2" height="4.0" fill="#EA8A8A"/>
<rect x="1078.24" y="586.2" width="2" height="1.8" fill="#F9D45C"/>
<rect x="1082.24" y="584.0" width="2" height="4.0" fill="#EA8A8A"/>
<rect x="1085.75" y="586.3" width="2" height="1.7" fill="#F9D45C"/>
<rect x="1089.75" y="584.0" width="2" height="4.0" fill="#EA8A8A"/>
<rect x="1093.26" y="586.3" width="2" height="1.7" fill="#F9D45C"/>
<rect x="1097.26" y="584.0" width="2" height="4.0" fill="#EA8A8A"/>
<rect x="1100.97" y="586.3" width="2" height="1.7" fill="#F9D45C"/>
<rect x="1104.97" y="584.0" width="2" height="4.0" fill="#EA8A8A"/>
<rect x="1108.67" y="586.3" width="2" height="1.7" fill="#F9D45C"/>
<rect x="1112.67" y="584.0" width="2" height="4.0" fill="#EA8A8A"/>
<rect x="1116.18" y="586.3" width="2" height="1.7" fill="#F9D45C"/>
<rect x="1120.18" y="584.0" width="2" height="4.0" fill="#EA8A8A"/>
<rect x="1123.69" y="586.3" width="2" height="1.7" fill="#F9D45C"/>
<rect x="1127.69" y="583.1" width="2" height="4.9" fill="#EA8A8A"/>
<rect x="1131.20" y="586.3" width="2" height="1.7" fill="#F9D45C"/>
<rect x="1135.20" y="583.1" width="2" height="4.9" fill="#EA8A8A"/>
<rect x="1138.71" y="586.3" width="2" height="1.7" fill="#F9D45C"/>
<rect x="1142.71" y="583.1" width="2" height="4.9" fill="#EA8A8A"/>
<text x="54.2" y="591.5" class="yl">0</text>
<text x="54.2" y="567.9" class="yl">100</text>
<text x="54.2" y="544.3" class="yl">200</text>
<text x="54.2" y="520.7" class="yl">300</text>
<text x="54.2" y="497.1" class="yl">400</text>
<text x="54.2" y="473.4" class="yl">500</text>
<text x="54.2" y="449.8" class="yl">600</text>
<text x="54.2" y="426.2" class="yl">700</text>
<text x="54.2" y="402.6" class="yl">800</text>
<text x="54.2" y="379.0" class="yl">900</text>
<text x="54.2" y="355.4" class="yl">1,000</text>
<text x="54.2" y="331.8" class="yl">1,100</text>
<text x="83.85" y="604.8" class="xl">March 1, 2020</text>
<text x="314.4" y="604.8" class="xl">April 1, 2020</text>
<text x="544.8" y="604.8" class="xl">May 1, 2020</text>
<text x="775.6" y="604.8" class="xl">June 1, 2020</text>
<text x="1006.1" y="604.8" class="xl">July 1, 2020</text>
</svg>
</body></html>
